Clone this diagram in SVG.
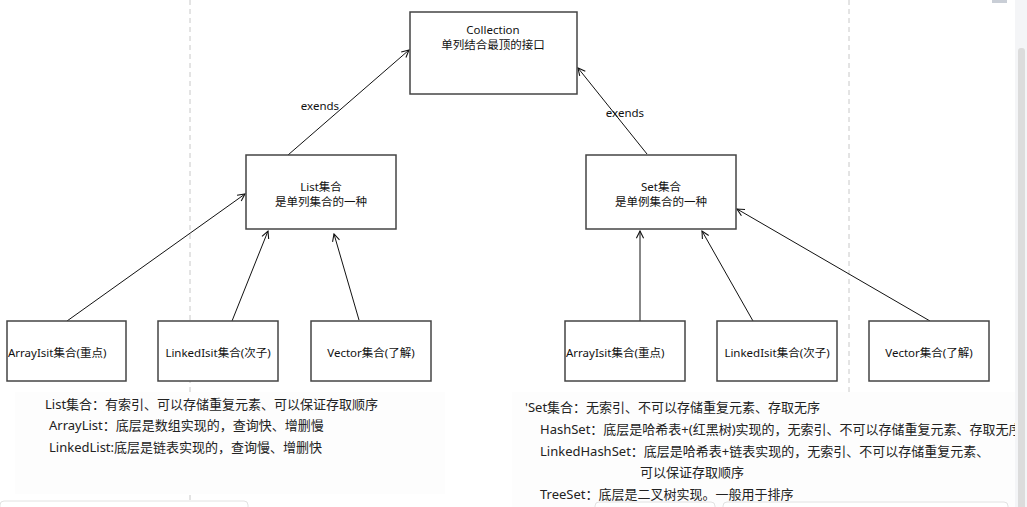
<svg xmlns="http://www.w3.org/2000/svg" width="1027" height="507" viewBox="0 0 1027 507">
<style>
.box{fill:#fff;stroke:#444;stroke-width:1.5}
.t{font-family:"Noto Sans","Noto Sans CJK SC",sans-serif;font-size:11.5px;fill:#111}
.n{font-family:"Noto Sans","Noto Sans CJK SC",sans-serif;font-size:13px;fill:#222}
.c{stroke:#111;stroke-width:1;fill:none}
.dash{stroke:#c8c8c8;stroke-width:1;stroke-dasharray:5,4}
</style>
<defs>
<marker id="arr" viewBox="0 0 10 10" refX="9" refY="5" markerWidth="9" markerHeight="9" markerUnits="userSpaceOnUse" orient="auto">
<path d="M1,1 L9,5 L1,9" fill="none" stroke="#111" stroke-width="1.2"/>
</marker>
</defs>
<rect width="1027" height="507" fill="#fff"/>
<line class="dash" x1="190" y1="0" x2="190" y2="507"/>
<line class="dash" x1="849" y1="0" x2="849" y2="507"/>
<rect x="15" y="392" width="430" height="102" fill="#fdfdfd"/>
<rect x="512" y="392" width="503" height="115" fill="#fdfdfd"/>
<rect x="1015" y="0" width="12" height="507" fill="#f4f5f7"/>
<rect x="1018" y="48" width="7" height="459" rx="3" fill="#dcdcdc"/>
<rect x="992" y="0" width="15" height="3" fill="#c9ced6"/>

<g id="connectors">
<line class="c" x1="288" y1="155" x2="409" y2="50" marker-end="url(#arr)"/>
<line class="c" x1="647" y1="154" x2="578" y2="68" marker-end="url(#arr)"/>
<line class="c" x1="67" y1="321" x2="245" y2="194" marker-end="url(#arr)"/>
<line class="c" x1="232" y1="321" x2="268" y2="231" marker-end="url(#arr)"/>
<line class="c" x1="359" y1="320" x2="334" y2="234" marker-end="url(#arr)"/>
<line class="c" x1="640" y1="321" x2="640" y2="231" marker-end="url(#arr)"/>
<line class="c" x1="753" y1="321" x2="702" y2="231" marker-end="url(#arr)"/>
<line class="c" x1="930" y1="321" x2="737" y2="209" marker-end="url(#arr)"/>
<text class="t" x="320" y="110" text-anchor="middle">exends</text>
<text class="t" x="625" y="117" text-anchor="middle">exends</text>
</g>

<g id="collection">
<rect class="box" x="410" y="12" width="167" height="82"/>
<text class="t" x="493" y="34" text-anchor="middle">Collection</text>
<text class="t" x="493" y="49" text-anchor="middle">单列结合最顶的接口</text>
</g>
<g id="list">
<rect class="box" x="246" y="155" width="150" height="74"/>
<text class="t" x="321" y="191" text-anchor="middle">List集合</text>
<text class="t" x="321" y="206" text-anchor="middle">是单列集合的一种</text>
</g>
<g id="set">
<rect class="box" x="586" y="155" width="150" height="74"/>
<text class="t" x="661" y="191" text-anchor="middle">Set集合</text>
<text class="t" x="661" y="206" text-anchor="middle">是单例集合的一种</text>
</g>
<g id="list-arraylist">
<rect class="box" x="7" y="321" width="119" height="60"/>
<text class="t" x="8" y="357">ArrayIsit集合(重点)</text>
</g>
<g id="list-linkedlist">
<rect class="box" x="158" y="321" width="120" height="60"/>
<text class="t" x="218" y="357" text-anchor="middle">LinkedIsit集合(次子)</text>
</g>
<g id="list-vector">
<rect class="box" x="311" y="321" width="120" height="60"/>
<text class="t" x="371" y="357" text-anchor="middle">Vector集合(了解)</text>
</g>
<g id="set-arraylist">
<rect class="box" x="565" y="321" width="120" height="60"/>
<text class="t" x="566" y="357">ArrayIsit集合(重点)</text>
</g>
<g id="set-linkedlist">
<rect class="box" x="717" y="321" width="120" height="60"/>
<text class="t" x="777" y="357" text-anchor="middle">LinkedIsit集合(次子)</text>
</g>
<g id="set-vector">
<rect class="box" x="869" y="321" width="120" height="60"/>
<text class="t" x="929" y="357" text-anchor="middle">Vector集合(了解)</text>
</g>

<g id="notes">
<text class="n" x="45" y="409">List集合：有索引、可以存储重复元素、可以保证存取顺序</text>
<text class="n" x="49" y="430">ArrayList：底层是数组实现的，查询快、增删慢</text>
<text class="n" x="49" y="452">LinkedList:底层是链表实现的，查询慢、增删快</text>
<text class="n" x="525" y="412">'Set集合：无索引、不可以存储重复元素、存取无序</text>
<text class="n" x="540" y="434">HashSet：底层是哈希表+(红黑树)实现的，无索引、不可以存储重复元素、存取无序</text>
<text class="n" x="540" y="456">LinkedHashSet：底层是哈希表+链表实现的，无索引、不可以存储重复元素、</text>
<text class="n" x="640" y="477">可以保证存取顺序</text>
<text class="n" x="540" y="499">TreeSet：底层是二叉树实现。一般用于排序</text>
</g>
<rect x="1015" y="385" width="12" height="122" fill="#f4f5f7"/>
<rect x="1018" y="385" width="7" height="122" fill="#dcdcdc"/>
<rect x="0" y="501" width="248" height="10" rx="4" fill="#fff" stroke="#e2e2e2"/>
<rect x="595" y="502" width="120" height="10" rx="4" fill="#fff" stroke="#e2e2e2"/>
<rect x="723" y="502" width="285" height="10" rx="4" fill="#fff" stroke="#e2e2e2"/>
</svg>
